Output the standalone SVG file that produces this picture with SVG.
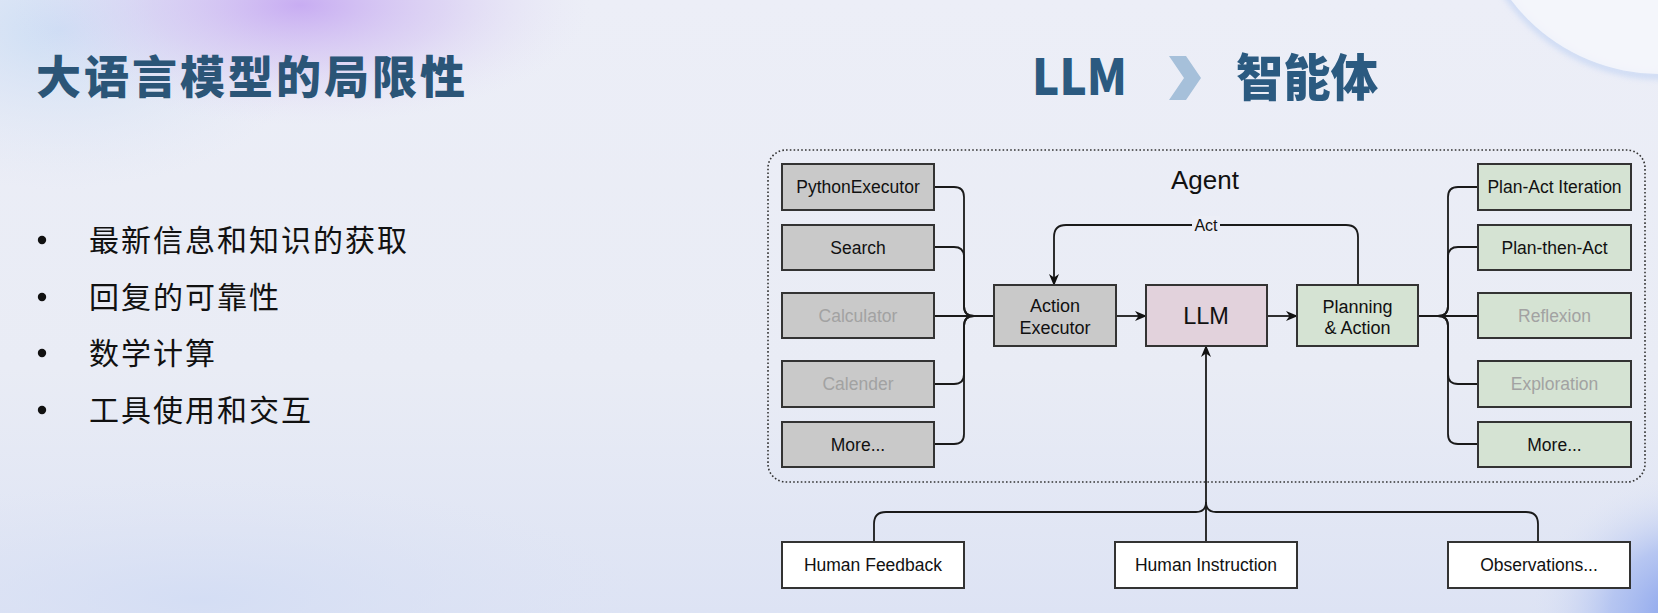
<svg xmlns="http://www.w3.org/2000/svg" width="1658" height="613" viewBox="0 0 1658 613">
  <defs>
    <linearGradient id="bg" x1="0" y1="0" x2="0" y2="1">
      <stop offset="0" stop-color="#eceef7"/>
      <stop offset="0.6" stop-color="#e9ecf5"/>
      <stop offset="1" stop-color="#dde3f4"/>
    </linearGradient>
    <radialGradient id="purple" cx="0.5" cy="0.5" r="0.5">
      <stop offset="0" stop-color="#c6a9f2" stop-opacity="0.95"/>
      <stop offset="0.5" stop-color="#d3c2f2" stop-opacity="0.55"/>
      <stop offset="1" stop-color="#e4e0f5" stop-opacity="0"/>
    </radialGradient>
    <radialGradient id="blueTL" cx="0.5" cy="0.5" r="0.5">
      <stop offset="0" stop-color="#c9dcf4" stop-opacity="0.9"/>
      <stop offset="1" stop-color="#dfe6f5" stop-opacity="0"/>
    </radialGradient>
    <radialGradient id="blueBR" cx="0.5" cy="0.5" r="0.5">
      <stop offset="0" stop-color="#7f9beb" stop-opacity="1"/>
      <stop offset="0.5" stop-color="#a5b9f0" stop-opacity="0.7"/>
      <stop offset="1" stop-color="#dde3f4" stop-opacity="0"/>
    </radialGradient>
    <radialGradient id="blueBL" cx="0.5" cy="0.5" r="0.5">
      <stop offset="0" stop-color="#d3ddf4" stop-opacity="0.9"/>
      <stop offset="1" stop-color="#dde3f4" stop-opacity="0"/>
    </radialGradient>
    <filter id="blur" x="-20%" y="-20%" width="140%" height="140%">
      <feGaussianBlur stdDeviation="3"/>
    </filter>
    <marker id="arr" viewBox="0 0 12 10" refX="11" refY="5" markerWidth="12" markerHeight="10" markerUnits="userSpaceOnUse" orient="auto">
      <path d="M0,0 L12,5 L0,10 L3.5,5 Z" fill="#111"/>
    </marker>
    <style>
      .box { stroke: #333; stroke-width: 2; }
      .gray { fill: #c9c9c9; }
      .green { fill: #d5e3d3; }
      .pink { fill: #e2d2dc; }
      .white { fill: #ffffff; }
      .lbl { font-family: "Liberation Sans", Arial, sans-serif; font-size: 17.5px; fill: #111; text-anchor: middle; }
      .big { font-size: 18px; }
      .llm { font-size: 23.5px; }
      .dim { fill: #a2a2a2; }
      .conn { fill: none; stroke: #1a1a1a; stroke-width: 1.8; }
      .cjk { font-family: "Noto Sans CJK SC", sans-serif; }
    </style>
  </defs>

  <!-- background -->
  <rect x="0" y="0" width="1658" height="613" fill="url(#bg)"/>
  <ellipse cx="60" cy="30" rx="260" ry="160" fill="url(#blueTL)"/>
  <ellipse cx="300" cy="5" rx="290" ry="120" fill="url(#purple)"/>
  <ellipse cx="200" cy="600" rx="450" ry="120" fill="url(#blueBL)"/>
  <ellipse cx="1690" cy="615" rx="160" ry="140" fill="url(#blueBR)"/>
  <circle cx="1662" cy="-113" r="189" fill="none" stroke="#b7cdf3" stroke-width="6" opacity="0.7" filter="url(#blur)"/>
  <circle cx="1660" cy="-113" r="187" fill="#f6f7fb" opacity="0.85"/>

  <!-- titles -->
  <text x="36" y="94" class="cjk" font-size="45" font-weight="900" fill="#2b5577" letter-spacing="3">大语言模型的局限性</text>
  <text x="1032" y="95" font-family="'Noto Sans CJK SC', 'Liberation Sans', sans-serif" font-size="50" font-weight="900" fill="#2b5a80" textLength="95" lengthAdjust="spacingAndGlyphs">LLM</text>
  <polygon points="1169,56 1186,56 1201,78 1186,100 1169,100 1184,78" fill="#a6c0da"/>
  <text x="1236" y="96" class="cjk" font-size="50" font-weight="900" fill="#2b5a80" textLength="142" lengthAdjust="spacingAndGlyphs">智能体</text>

  <!-- bullets -->
  <g id="bullets" fill="#111">
    <circle cx="42" cy="240" r="4.2"/>
    <circle cx="42" cy="297" r="4.2"/>
    <circle cx="42" cy="353" r="4.2"/>
    <circle cx="42" cy="410" r="4.2"/>
    <text x="89" y="251" class="cjk" font-size="30" letter-spacing="2">最新信息和知识的获取</text>
    <text x="89" y="308" class="cjk" font-size="30" letter-spacing="2">回复的可靠性</text>
    <text x="89" y="364" class="cjk" font-size="30" letter-spacing="2">数学计算</text>
    <text x="89" y="421" class="cjk" font-size="30" letter-spacing="2">工具使用和交互</text>
  </g>

  <!-- agent container -->
  <g id="agent">
    <rect x="768" y="150" width="877" height="332" rx="18" fill="none" stroke="#333" stroke-width="1.6" stroke-dasharray="1.6 2.2"/>
    <text x="1171" y="189" font-family="'Liberation Sans', Arial, sans-serif" font-size="26" fill="#111">Agent</text>
  </g>

  <!-- connectors -->
  <g id="connectors" class="conn">
    <path d="M934,187 H954 Q964,187 964,197 V306 Q964,316 974,316"/>
    <path d="M934,247 H954 Q964,247 964,257 V306 Q964,316 974,316"/>
    <path d="M934,316 H994"/>
    <path d="M934,384 H954 Q964,384 964,374 V326 Q964,316 974,316"/>
    <path d="M934,444 H954 Q964,444 964,434 V326 Q964,316 974,316"/>
    <path d="M1116,316 H1146" marker-end="url(#arr)"/>
    <path d="M1267,316 H1297" marker-end="url(#arr)"/>
    <path d="M1358,285 V237 Q1358,225 1346,225 H1066 Q1054,225 1054,237 V285" marker-end="url(#arr)"/>
    <path d="M1418,316 H1438 Q1448,316 1448,306 V197 Q1448,187 1458,187 H1478"/>
    <path d="M1438,316 Q1448,316 1448,306 V257 Q1448,247 1458,247 H1478"/>
    <path d="M1418,316 H1478"/>
    <path d="M1438,316 Q1448,316 1448,326 V374 Q1448,384 1458,384 H1478"/>
    <path d="M1438,316 Q1448,316 1448,326 V434 Q1448,444 1458,444 H1478"/>
    <path d="M1206,542 V346" marker-end="url(#arr)"/>
    <path d="M874,542 V524 Q874,512 886,512 H1196 Q1206,512 1206,502"/>
    <path d="M1538,542 V524 Q1538,512 1526,512 H1216 Q1206,512 1206,502"/>
  </g>
  <g id="act-label">
    <rect x="1192" y="216" width="28" height="17" fill="#eceef6"/>
    <text x="1206" y="231" font-family="'Liberation Sans', Arial, sans-serif" font-size="16" fill="#111" text-anchor="middle">Act</text>
  </g>

  <!-- tool nodes -->
  <g id="python-executor"><rect class="box gray" x="782" y="164" width="152" height="46"/><text class="lbl" x="858" y="193">PythonExecutor</text></g>
  <g id="search"><rect class="box gray" x="782" y="225" width="152" height="45"/><text class="lbl" x="858" y="253.5">Search</text></g>
  <g id="calculator"><rect class="box gray" x="782" y="293" width="152" height="45"/><text class="lbl dim" x="858" y="321.5">Calculator</text></g>
  <g id="calender"><rect class="box gray" x="782" y="361" width="152" height="46"/><text class="lbl dim" x="858" y="390">Calender</text></g>
  <g id="more-tools"><rect class="box gray" x="782" y="422" width="152" height="45"/><text class="lbl" x="858" y="450.5">More...</text></g>

  <!-- core nodes -->
  <g id="action-executor"><rect class="box gray" x="994" y="285" width="122" height="61"/><text class="lbl big" x="1055" y="312">Action</text><text class="lbl big" x="1055" y="334">Executor</text></g>
  <g id="llm"><rect class="box pink" x="1146" y="285" width="121" height="61"/><text class="lbl llm" x="1206" y="323.5">LLM</text></g>
  <g id="planning-action"><rect class="box green" x="1297" y="285" width="121" height="61"/><text class="lbl big" x="1357.5" y="313">Planning</text><text class="lbl big" x="1357.5" y="334">&amp; Action</text></g>

  <!-- strategy nodes -->
  <g id="plan-act-iteration"><rect class="box green" x="1478" y="164" width="153" height="46"/><text class="lbl" x="1554.5" y="193">Plan-Act Iteration</text></g>
  <g id="plan-then-act"><rect class="box green" x="1478" y="225" width="153" height="45"/><text class="lbl" x="1554.5" y="253.5">Plan-then-Act</text></g>
  <g id="reflexion"><rect class="box green" x="1478" y="293" width="153" height="45"/><text class="lbl dim" x="1554.5" y="321.5">Reflexion</text></g>
  <g id="exploration"><rect class="box green" x="1478" y="361" width="153" height="46"/><text class="lbl dim" x="1554.5" y="390">Exploration</text></g>
  <g id="more-strategies"><rect class="box green" x="1478" y="422" width="153" height="45"/><text class="lbl" x="1554.5" y="450.5">More...</text></g>

  <!-- input nodes -->
  <g id="human-feedback"><rect class="box white" x="782" y="542" width="182" height="46"/><text class="lbl" x="873" y="571">Human Feedback</text></g>
  <g id="human-instruction"><rect class="box white" x="1115" y="542" width="182" height="46"/><text class="lbl" x="1206" y="571">Human Instruction</text></g>
  <g id="observations"><rect class="box white" x="1448" y="542" width="182" height="46"/><text class="lbl" x="1539" y="571">Observations...</text></g>
</svg>
